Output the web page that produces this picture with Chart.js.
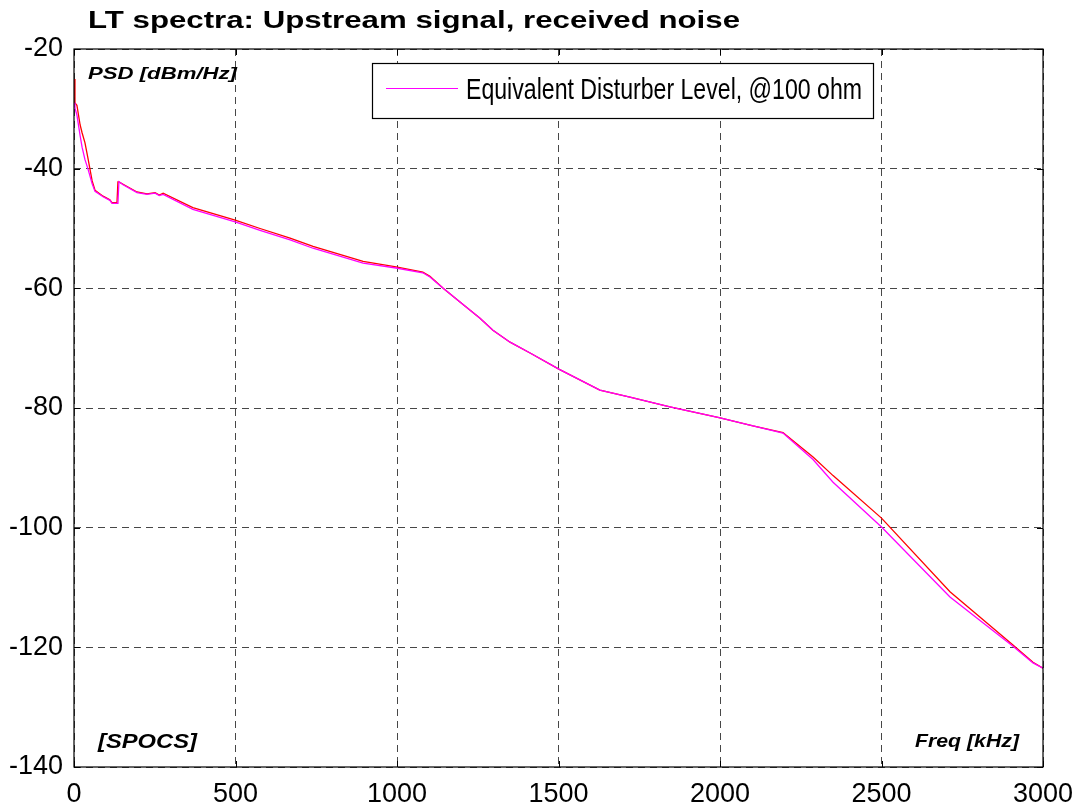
<!DOCTYPE html>
<html>
<head>
<meta charset="utf-8">
<title>LT spectra: Upstream signal, received noise</title>
<script src="https://cdn.jsdelivr.net/npm/chart.js@4/dist/chart.umd.min.js"></script>
<style>
    html, body { margin: 0; padding: 0; background: #fff; }
    canvas { display: block; }
</style>
</head>
<body>
<canvas id="psd-chart" width="1081" height="806"></canvas>
<script>
// ── Data (frequency in kHz, PSD in dBm/Hz) ──
const freqKHz = [0, 3, 9, 19, 25, 34, 43, 56, 65, 90, 111, 118, 133, 136, 139, 152, 195, 226, 251, 264, 276, 368, 499, 576, 669, 740, 895, 997, 1080, 1102, 1143, 1195, 1257, 1297, 1350, 1412, 1501, 1628, 1721, 1845, 1997, 2102, 2195, 2288, 2350, 2500, 2712, 2907, 2969, 3000];
const upstreamSignal = [-25, -29, -29.4, -32.7, -34, -35.7, -38.2, -42, -43.6, -44.6, -45.2, -45.7, -45.7, -42.2, -42.2, -42.6, -43.9, -44.2, -44.0, -44.4, -44.1, -46.5, -48.6, -50.0, -51.6, -53.0, -55.5, -56.4, -57.3, -58.0, -60, -62.3, -65, -67, -69, -70.8, -73.5, -77, -78.2, -79.8, -81.6, -83, -84.1, -88.2, -91.3, -98.4, -110.7, -119.6, -122.5, -123.5];
const disturberLevel = [-29, -29.9, -31, -34.5, -36.4, -38.5, -40, -42.5, -43.8, -44.7, -45.3, -45.8, -45.8, -45.8, -42.2, -42.7, -44.0, -44.3, -44.1, -44.5, -44.3, -46.8, -48.9, -50.3, -51.9, -53.3, -55.8, -56.6, -57.4, -58.1, -60, -62.3, -65, -67, -69, -70.8, -73.5, -77, -78.2, -79.8, -81.6, -83, -84.2, -88.6, -92.4, -99.9, -111.6, -119.8, -122.6, -123.5];

const xTicks = [0, 500, 1000, 1500, 2000, 2500, 3000];
const yTicks = [-140, -120, -100, -80, -60, -40, -20];

const chartTitle = 'LT spectra: Upstream signal, received noise';
const legendLabel = 'Equivalent Disturber Level, @100 ohm';

// ── Helpers ──
function toPoints(ys) {
    return freqKHz.map(function (f, i) { return { x: f, y: ys[i] }; });
}

// draw text stretched/squeezed horizontally to a given width (MATLAB text is wide)
function fitText(ctx, text, x, y, font, width) {
    ctx.save();
    ctx.font = font;
    ctx.fillStyle = '#000';
    ctx.textBaseline = 'middle';
    ctx.textAlign = 'left';
    const w = ctx.measureText(text).width;
    ctx.translate(x, y);
    ctx.scale(width / w, 1);
    ctx.fillText(text, 0, 0);
    ctx.restore();
}

// White page, frame, inner ticks, title, axis notes, legend
const framePlugin = {
    id: 'matlabFrame',
    beforeDraw: function (chart) {
        const ctx = chart.ctx;
        ctx.save();
        ctx.fillStyle = '#fff';
        ctx.fillRect(0, 0, chart.width, chart.height);
        ctx.restore();
    },
    afterDraw: function (chart) {
        const ctx = chart.ctx;
        const a = chart.chartArea;
        const xs = chart.scales.x;
        const ys = chart.scales.y;

        ctx.save();
        ctx.strokeStyle = '#000';
        ctx.lineWidth = 1.2;
        ctx.setLineDash([]);
        ctx.strokeRect(a.left, a.top, a.right - a.left, a.bottom - a.top);

        // inward tick marks on all four sides
        ctx.lineWidth = 1;
        ctx.beginPath();
        xTicks.forEach(function (t) {
            const px = Math.round(xs.getPixelForValue(t)) + 0.5;
            ctx.moveTo(px, a.top); ctx.lineTo(px, a.top + 6);
            ctx.moveTo(px, a.bottom); ctx.lineTo(px, a.bottom - 6);
        });
        yTicks.forEach(function (t) {
            const py = Math.round(ys.getPixelForValue(t)) + 0.5;
            ctx.moveTo(a.left, py); ctx.lineTo(a.left + 6, py);
            ctx.moveTo(a.right, py); ctx.lineTo(a.right - 6, py);
        });
        ctx.stroke();
        ctx.restore();

        fitText(ctx, chartTitle, 88, 22, 'bold 23px "Liberation Sans", Arial, sans-serif', 652);
        fitText(ctx, 'PSD [dBm/Hz]', 88, 74, 'italic bold 17px "Liberation Sans", Arial, sans-serif', 149);
        fitText(ctx, '[SPOCS]', 98, 742, 'italic bold 21px "Liberation Sans", Arial, sans-serif', 99);
        fitText(ctx, 'Freq [kHz]', 915, 742, 'italic bold 19px "Liberation Sans", Arial, sans-serif', 104);

        // legend box
        ctx.save();
        ctx.fillStyle = '#fff';
        ctx.fillRect(372, 63, 501, 55);
        ctx.strokeStyle = '#000';
        ctx.lineWidth = 1.2;
        ctx.strokeRect(372.5, 63.5, 501, 55);
        ctx.strokeStyle = '#ff00ff';
        ctx.lineWidth = 1.2;
        ctx.beginPath();
        ctx.moveTo(386, 88.5);
        ctx.lineTo(458, 88.5);
        ctx.stroke();
        ctx.restore();
        fitText(ctx, legendLabel, 466, 91, '29px "Liberation Sans", Arial, sans-serif', 396);
    }
};

const tickFont = { family: '"Liberation Sans", Arial, sans-serif', size: 27 };
const gridStyle = { color: 'rgba(0, 0, 0, 0.72)', lineWidth: 1, drawTicks: false };

new Chart(document.getElementById('psd-chart'), {
    type: 'line',
    data: {
        datasets: [{
            label: legendLabel,
            data: toPoints(disturberLevel),
            borderColor: '#ff00ff',
            borderWidth: 1.3,
            pointRadius: 0,
            tension: 0
        }, {
            label: 'Upstream signal',
            data: toPoints(upstreamSignal),
            borderColor: '#ff0000',
            borderWidth: 1.3,
            pointRadius: 0,
            tension: 0
        }]
    },
    options: {
        responsive: false,
        animation: false,
        layout: { padding: { top: 49, right: 38, left: 0, bottom: 0 } },
        plugins: {
            legend: { display: false },
            title: { display: false },
            tooltip: { enabled: false }
        },
        scales: {
            x: {
                type: 'linear',
                min: 0,
                max: 3000,
                afterBuildTicks: function (s) { s.ticks = xTicks.map(function (v) { return { value: v }; }); },
                afterFit: function (s) {
                    s.height = 39;
                    // let the last label hang past the frame, as in the reference
                    s.paddingLeft = 0;
                    s.paddingRight = 0;
                },
                ticks: {
                    color: '#000', font: tickFont, padding: 11, maxRotation: 0,
                    callback: function (v) { return String(v); }
                },
                grid: gridStyle,
                border: { display: false, dash: [7, 5] }
            },
            y: {
                type: 'linear',
                min: -140,
                max: -20,
                afterBuildTicks: function (s) { s.ticks = yTicks.map(function (v) { return { value: v }; }); },
                afterFit: function (s) { s.width = 74; },
                ticks: {
                    color: '#000', font: tickFont, padding: 11,
                    callback: function (v) { return String(v); }
                },
                grid: gridStyle,
                border: { display: false, dash: [7, 5] }
            }
        }
    },
    plugins: [framePlugin]
});
</script>
</body>
</html>
